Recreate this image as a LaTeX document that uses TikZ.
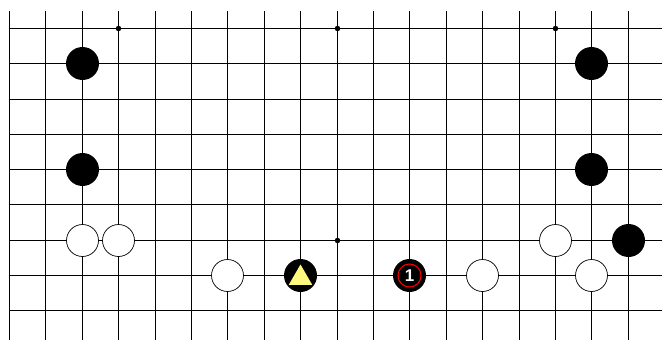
\documentclass[tikz,border=0pt]{standalone}
\usepackage{fontspec}
\setmainfont{Liberation Sans}
\usetikzlibrary{shapes.geometric}
\begin{document}
\begin{tikzpicture}[x=1pt,y=-1pt,
  gridline/.style={line width=1.2pt,black},
  bstone/.style={circle,fill=black,inner sep=0pt,minimum size=33pt},
  wstone/.style={circle,fill=white,draw=black,line width=0.7pt,inner sep=0pt,minimum size=32pt},
  hoshi/.style={circle,fill=black,inner sep=0pt,minimum size=5.5pt},
  tri/.style={regular polygon,regular polygon sides=3,fill=yellow!50,inner sep=0pt,minimum size=27pt},
  lastmark/.style={circle,draw=red,line width=1pt,inner sep=0pt,minimum size=23pt},
  numtext/.style={text=white,font=\bfseries\fontsize{17}{17}\selectfont,inner sep=0pt}]
\useasboundingbox (0,0) rectangle (662,340);
\fill[white] (0,0) rectangle (662,340);
\foreach \i in {0,...,17} {
  \draw[gridline] ({round(10+36.4*\i)-0.5},11) -- ({round(10+36.4*\i)-0.5},340);
}
\foreach \j in {0,...,8} {
  \draw[gridline] (9,{round(28+35.25*\j)+0.5}) -- (662,{round(28+35.25*\j)+0.5});
}
\def\gx#1{round(10+36.4*#1)-0.5}
\def\gy#1{round(28+35.25*#1)+0.5}
% star points
\node[hoshi] (s1) at ({\gx{3}},{\gy{0}}) {};
\node[hoshi] (s2) at ({\gx{9}},{\gy{0}}) {};
\node[hoshi] (s3) at ({\gx{15}},{\gy{0}}) {};
\node[hoshi] (s4) at ({\gx{9}},{\gy{6}}) {};
% black stones
\node[bstone] (b1) at ({\gx{2}},{\gy{1}}) {};
\node[bstone] (b2) at ({\gx{2}},{\gy{4}}) {};
\node[bstone] (b3) at ({\gx{16}},{\gy{1}}) {};
\node[bstone] (b4) at ({\gx{16}},{\gy{4}}) {};
\node[bstone] (b5) at ({\gx{17}},{\gy{6}}) {};
\node[bstone] (b6) at ({\gx{8}},{\gy{7}}) {};
\node[bstone] (b7) at ({\gx{11}},{\gy{7}}) {};
% white stones
\node[wstone] (w1) at ({\gx{2}},{\gy{6}}) {};
\node[wstone] (w2) at ({\gx{3}},{\gy{6}}) {};
\node[wstone] (w3) at ({\gx{6}},{\gy{7}}) {};
\node[wstone] (w4) at ({\gx{13}},{\gy{7}}) {};
\node[wstone] (w5) at ({\gx{15}},{\gy{6}}) {};
\node[wstone] (w6) at ({\gx{16}},{\gy{7}}) {};
% marks
\node[tri] (t1) at ([yshift=-2.5pt]b6.center) {};
\node[lastmark] (m1) at (b7.center) {};
\node[numtext] (n1) at (b7.center) {1};
\end{tikzpicture}
\end{document}
